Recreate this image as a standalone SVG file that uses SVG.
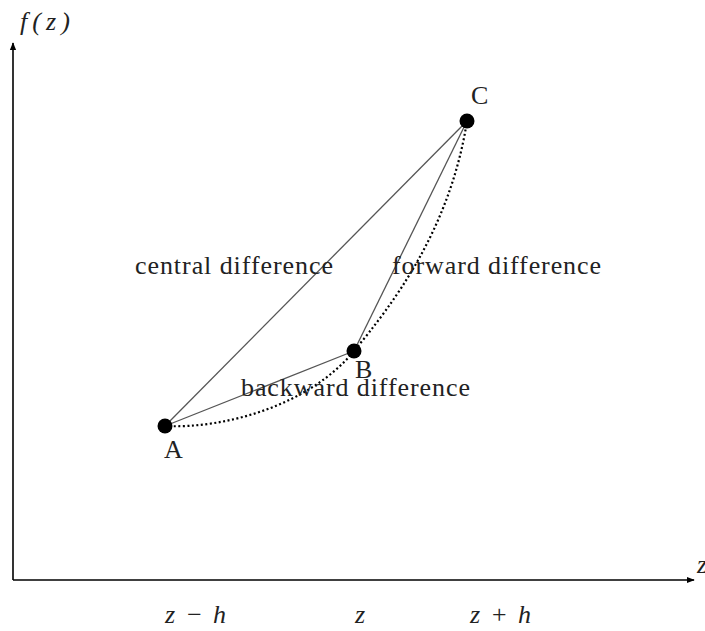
<svg xmlns="http://www.w3.org/2000/svg" width="705" height="631" viewBox="0 0 705 631">
<defs>
<marker id="arr" viewBox="0 0 10 10" refX="9" refY="5" markerWidth="8" markerHeight="8" markerUnits="userSpaceOnUse" orient="auto"><path d="M0,1 L10,5 L0,9 z" fill="#000"/></marker>
<style>
.t{font-family:"Liberation Serif","Times New Roman",serif;font-size:26px;fill:#222}
.m{font-family:"Liberation Serif","Times New Roman",serif;font-style:italic;font-size:26px;fill:#222}
.ln{stroke:#555;stroke-width:1.3;fill:none}
.ax{stroke:#000;stroke-width:1.6;fill:none}
.cv{stroke:#000;stroke-width:2.2;fill:none;stroke-dasharray:2 2.5}
</style>
</defs>
<rect width="705" height="631" fill="#fff"/>
<g id="axes">
<line class="ax" x1="13" y1="580" x2="13" y2="43" marker-end="url(#arr)"/>
<line class="ax" x1="13" y1="580" x2="694" y2="580" marker-end="url(#arr)"/>
<text class="m" x="20" y="30" textLength="50">f(z)</text>
<text class="m" x="697" y="573">z</text>
<text class="m" x="165" y="623" textLength="61">z − h</text>
<text class="m" x="355" y="623">z</text>
<text class="m" x="470" y="623" textLength="61">z + h</text>
</g>
<g id="connectors">
<line class="ln" x1="165" y1="426" x2="467" y2="121"/>
<line class="ln" x1="165" y1="426" x2="354" y2="351"/>
<line class="ln" x1="354" y1="351" x2="467" y2="121"/>
<path class="cv" d="M165,426 C225,429 310,405 354,351 C392,305 450,230 467,121"/>
</g>
<g id="A"><circle cx="165" cy="426" r="7.5" fill="#000"/><text class="t" x="164" y="458">A</text></g>
<g id="B"><circle cx="354" cy="351" r="7.5" fill="#000"/><text class="t" x="355" y="378">B</text></g>
<g id="C"><circle cx="467" cy="121" r="7.5" fill="#000"/><text class="t" x="471" y="104">C</text></g>
<g id="labels">
<text class="t" x="135" y="274" textLength="198">central difference</text>
<text class="t" x="392" y="274" textLength="209">forward difference</text>
<text class="t" x="241" y="396" textLength="229">backward difference</text>
</g>
</svg>
